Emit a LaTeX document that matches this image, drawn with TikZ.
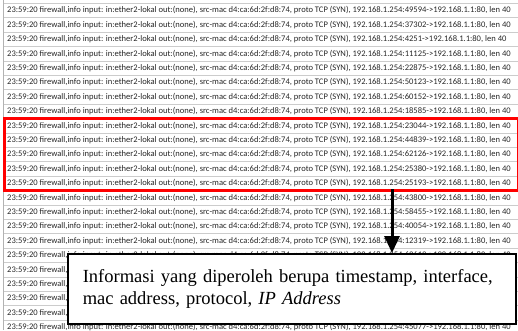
\documentclass[tikz,border=0pt]{standalone}
\usepackage{fontspec}
\setmainfont{Liberation Serif}
\newfontfamily\logfont{Carlito}
\usetikzlibrary{arrows.meta}

\tikzset{
  logrow/.style={anchor=west,inner sep=0pt,text=black!85,
    font=\logfont\fontsize{8.55}{9}\selectfont},
  gridline/.style={gray!40,line width=0.7pt}
}

\begin{document}
\begin{tikzpicture}[x=1pt,y=-1pt]
\useasboundingbox (0,0) rectangle (518,330);

% rows of the firewall log
\draw[gray!60,line width=0.9pt] (3.5,0) -- (3.5,330);
\foreach \port [count=\i from 0] in {49594,37302,4251,11125,22875,50123,60152,18585,
    23044,44839,62126,25380,25193,43800,58455,40054,12319,63619,
    31472,52268,17903,46611,45077} {
  \draw[gridline] (3.5,{3.3+14.4*\i}) -- (518,{3.3+14.4*\i});
  \node[logrow] (row\i) at (7,{10.5+14.4*\i})
    {23:59:20 firewall,info input: in:ether2-lokal out:(none), src-mac d4:ca:6d:2f:d8:74, proto TCP (SYN), 192.168.1.254:\port->192.168.1.1:80, len 40};
}

% selected rows
\node[draw=red,line width=3.2pt,inner sep=0pt,anchor=north west,
      minimum width=513.5,minimum height=72] (sel) at (3,117) {};

% explanation
\node[draw,line width=1.6pt,fill=white,anchor=north west,
      minimum width=448,minimum height=70,inner xsep=15pt,
      text width=418,align=left,font=\fontsize{18.5}{21.5}\selectfont] (info) at (67,253)
    {Informasi yang diperoleh berupa timestamp, interface,\\
     mac address, protocol, \textit{IP Address}};

\coordinate (tail) at (392,189);
\draw[line width=3pt,-{Triangle[length=17pt,width=15pt]}] (tail) -- (info.north -| tail);

\end{tikzpicture}
\end{document}
